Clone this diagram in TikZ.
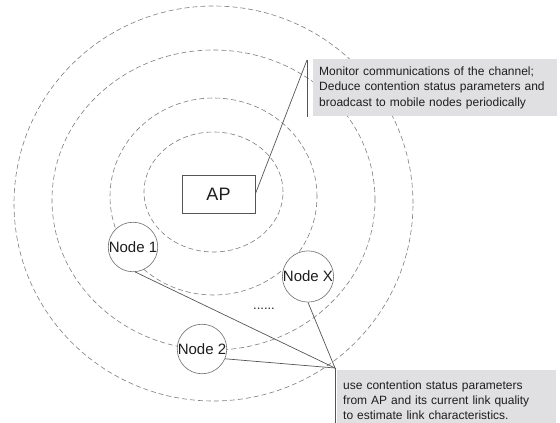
\documentclass[tikz,border=0pt]{standalone}
\usepackage{fontspec}
\setmainfont{Liberation Sans}
\definecolor{ringgray}{RGB}{125,125,125}
\definecolor{linegray}{RGB}{85,85,85}
\definecolor{circgray}{RGB}{110,110,110}
\definecolor{boxfill}{RGB}{224,224,227}
\definecolor{txt}{RGB}{30,30,30}
\begin{document}
\begin{tikzpicture}[x=1pt,y=-1pt,
  ring/.style={draw=ringgray, dash pattern=on 5pt off 3pt, line width=0.6pt},
  conn/.style={draw=linegray, line width=0.7pt},
  mnode/.style={circle, draw=circgray, fill=white, line width=0.6pt, minimum size=48pt, inner sep=0pt, text=txt, font=\fontsize{15}{18}\selectfont},
  apbox/.style={rectangle, draw=linegray, fill=white, line width=0.7pt, minimum width=73pt, minimum height=38pt, inner sep=0pt, text=txt, font=\fontsize{18}{21}\selectfont},
  notebox/.style={rectangle, fill=boxfill, anchor=north west, inner xsep=6pt, inner ysep=0pt, align=left, text=txt, font=\fontsize{12}{15.3}\selectfont},
  bar/.style={draw=linegray, line width=0.8pt}]
\useasboundingbox (0,0) rectangle (560,423);
% rings
\draw[ring] (213.5,192) ellipse [x radius=69.5pt, y radius=60pt];
\draw[ring] (213.5,196.5) ellipse [x radius=103.5pt, y radius=98.5pt];
\draw[ring] (213.5,200) ellipse [x radius=161.5pt, y radius=150pt];
\draw[ring] (213.5,203.5) ellipse [x radius=199.5pt, y radius=197.5pt];
% notes
\node[notebox, minimum width=244pt, minimum height=57pt, text width=232pt] (note1) at (313,59)
  {Monitor communications of the channel;\\Deduce contention status parameters and\\broadcast to mobile nodes periodically};
\node[notebox, minimum width=219pt, minimum height=60pt, text width=207pt] (note2) at (337,370)
  {use contention status parameters\\from AP and its current link quality\\to estimate link characteristics.};
\coordinate (b1t) at (307,60);
\coordinate (b1b) at (307,117);
\coordinate (b2t) at (335,368);
\coordinate (b2b) at (335,430);
\draw[bar] (b1t) -- (b1b);
\draw[bar] (b2t) -- (b2b);
% nodes
\node[apbox] (ap) at (218.5,194) {AP};
\node[mnode] (n1) at (133,247) {Node 1};
\node[mnode] (n2) at (202,349) {Node 2};
\node[mnode] (nx) at (308,276.5) {Node X};
\node[text=txt, font=\fontsize{13}{15}\selectfont, inner sep=0pt] (dots) at (264,309) {......};
% connectors
\draw[conn] (ap.east) -- (b1t);
\draw[conn] (n1.-85) -- (b2t);
\draw[conn] (n2.-23) -- (b2t);
\draw[conn] (nx.south) -- (b2t);
\end{tikzpicture}
\end{document}
